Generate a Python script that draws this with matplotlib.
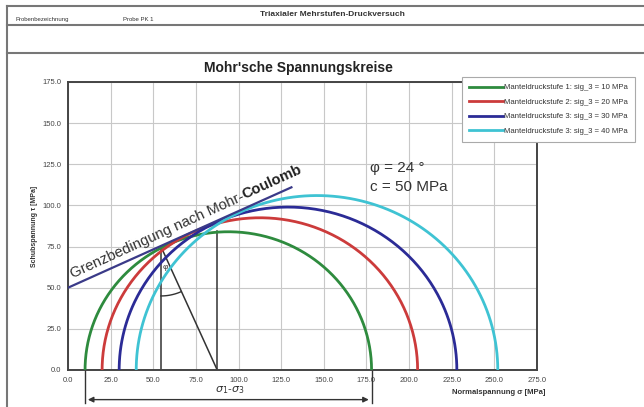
import numpy as np
import matplotlib
matplotlib.use("Agg")
import matplotlib.pyplot as plt
from matplotlib.lines import Line2D

plt.rcParams['font.family'] = ['Liberation Sans', 'DejaVu Sans']

# ---- data ----
sig3 = [10, 20, 30, 40]                 # MPa, left ends of circles
sig1 = [178, 205, 228, 252]             # MPa, right ends of circles
labels = ["Manteldruckstufe 1: sig_3 = 10 MPa",
          "Manteldruckstufe 2: sig_3 = 20 MPa",
          "Manteldruckstufe 3: sig_3 = 30 MPa",
          "Manteldruckstufe 3: sig_3 = 40 MPa"]
colors = ["#2e8b3e", "#cc3b3b", "#2b2b96", "#3fc3d3"]
mc_sigma = [0, 131]                     # Mohr-Coulomb envelope
mc_tau = [50, 111]
phi_deg = 24
c_mpa = 50
tangent_pt = (54.5, 75)                 # construction point
center_pt = 87.5
center_top = 84.5
xticks = [0, 25, 50, 75, 100, 125, 150, 175, 200, 225, 250, 275]
yticks = [0, 25, 50, 75, 100, 125, 150, 175]

W, H = 644, 407
fig = plt.figure(figsize=(W/100, H/100), dpi=100)
ax = fig.add_axes([68/W, 1-370/H, (537-68)/W, (370-82)/H])

for s3, s1, col, lab in zip(sig3, sig1, colors, labels):
    cen = (s1 + s3) / 2
    r = (s1 - s3) / 2
    t = np.linspace(0, np.pi, 300)
    ax.plot(cen + r*np.cos(t), r*np.sin(t), color=col, lw=2, label=lab, zorder=3)

ax.plot(mc_sigma, mc_tau, color="#3a3a88", lw=1.6, zorder=4)

# construction
k = "#333333"
px, py = tangent_pt
ax.plot([px, px], [0, py], color=k, lw=1.1, zorder=2)
ax.plot([px, center_pt], [py, 0], color=k, lw=1.1, zorder=2)
ax.plot([center_pt, center_pt], [0, center_top], color=k, lw=1.1, zorder=2)
ang_d = np.degrees(np.arctan2(-py, center_pt - px))
tt = np.radians(np.linspace(-90, ang_d, 40))
ax.plot(px + 30*np.cos(tt)*0.97, py + 30*np.sin(tt), color=k, lw=1.0, zorder=2)
ax.text(px + 2.5, py - 13, "φ", fontsize=6, color=k, ha='center', va='center')

ax.set_xlim(0, 275)
ax.set_ylim(0, 175)
ax.set_xticks(xticks)
ax.set_yticks(yticks)
ax.set_xticklabels([f"{v:.1f}" for v in xticks], fontsize=5.5, color="#444444")
ax.set_yticklabels([f"{v:.1f}" for v in yticks], fontsize=5.5, color="#444444")
ax.tick_params(length=0, pad=5)
ax.grid(True, color="#c8c8c8", lw=0.8)
ax.set_axisbelow(True)
for sp in ax.spines.values():
    sp.set_color("#444444")
    sp.set_linewidth(1.4)

ax.set_ylabel("Schubspannung τ [MPa]", fontsize=5, fontweight='bold', color="#333333", labelpad=3)

# texts
ax.text(177, 120.5, f"φ = {phi_deg} °", fontsize=11, color="#333333", va='baseline')
ax.text(177, 109, f"c = {c_mpa} MPa", fontsize=11, color="#333333", va='baseline')

# envelope label
rot = 24.5
fig.canvas.draw()
r = fig.canvas.get_renderer()
t1 = ax.text(2.5, 56, "Grenzbedingung nach Mohr-", fontsize=10.7, color="#333333",
             rotation=rot, rotation_mode='anchor', ha='left', va='baseline')
tmp = fig.text(0, 0, "Grenzbedingung nach Mohr-", fontsize=10.7)
wpx = tmp.get_window_extent(renderer=r).width
tmp.remove()
x0, y0 = ax.transData.transform((2.5, 56))
x1 = x0 + wpx*np.cos(np.radians(rot))
y1 = y0 + wpx*np.sin(np.radians(rot))
xd, yd = ax.transData.inverted().transform((x1, y1))
ax.text(xd, yd, "Coulomb", fontsize=10.7, fontweight='bold', color="#222222",
        rotation=rot, rotation_mode='anchor', ha='left', va='baseline')

# legend
leg = fig.legend(loc='upper left', bbox_to_anchor=(462/W, 1-77/H), fontsize=5.6,
                 frameon=True, fancybox=False, edgecolor="#aaaaaa", handlelength=4.4,
                 borderpad=0.9, labelspacing=0.9, handletextpad=0.15, borderaxespad=0,
                 framealpha=1)
leg.get_frame().set_linewidth(0.8)
for txt in leg.get_texts():
    txt.set_color("#333333")

# x label
fig.text(545/W, 1-393/H, "Normalspannung σ [MPa]", fontsize=5.5, fontweight='bold',
         color="#333333", ha='right', va='center')

# sigma1 - sigma3 dimension arrow
ya = -18
ax.plot([sig3[0], sig3[0]], [0, ya - 2], color=k, lw=1.0, clip_on=False)
ax.plot([sig1[0], sig1[0]], [0, ya - 2], color=k, lw=1.0, clip_on=False)
ax.annotate("", xy=(sig3[0], ya), xytext=(sig1[0], ya), annotation_clip=False,
            arrowprops=dict(arrowstyle='<|-|>', color=k, lw=1.0, mutation_scale=8))
ax.text((sig3[0] + sig1[0]) / 2 + 1, ya + 2.5, r"$\sigma_1$-$\sigma_3$", fontsize=8,
        color="#333333", ha='center', va='bottom')

# title and header
fig.text(298/W, 1-68/H, "Mohr'sche Spannungskreise", fontsize=10, fontweight='bold',
         color="#222222", ha='center', va='center')
fig.text(332/W, 1-14/H, "Triaxialer Mehrstufen-Druckversuch", fontsize=6, fontweight='bold',
         color="#333333", ha='center', va='center')
fig.text(16/W, 1-21/H, "Probenbezeichnung", fontsize=4.3, color="#333333", ha='left', va='baseline')
fig.text(123/W, 1-21/H, "Probe PK 1", fontsize=4.3, color="#333333", ha='left', va='baseline')

lc = "#777777"
for yy in [6, 25, 53]:
    fig.add_artist(Line2D([7/W, 1], [1-yy/H, 1-yy/H], color=lc, lw=1.5))
fig.add_artist(Line2D([7/W, 7/W], [0, 1-6/H], color=lc, lw=1.5))

fig.savefig("out.png", dpi=100)
